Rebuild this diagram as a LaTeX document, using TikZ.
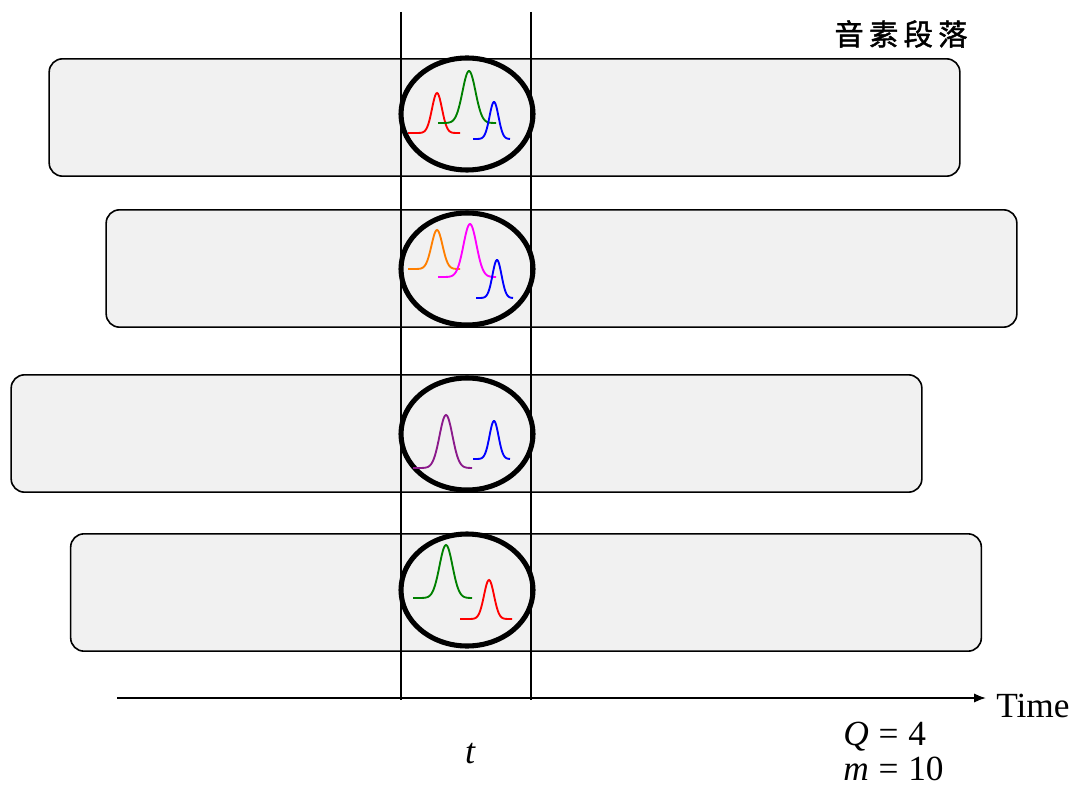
\documentclass[tikz,border=0pt]{standalone}
\usepackage{fontspec}
\setmainfont{Liberation Serif}
\newfontfamily\cjk[LetterSpace=18,FakeBold=1.5]{Noto Sans CJK TC}
\usetikzlibrary{shapes.geometric,arrows.meta}
\definecolor{boxfill}{HTML}{F1F1F1}
\definecolor{dkgreen}{HTML}{008000}
\definecolor{orng}{HTML}{FF7F00}
\definecolor{purp}{HTML}{8B1A8B}
\definecolor{mgnt}{HTML}{FF00FF}
% Gaussian bump: centre, left end, right end, baseline, height, sigma, colour
\newcommand\gbump[7]{\draw[#7,line width=1.4pt] plot[domain=#2:#3,samples=60,smooth] (\x,{#4-#5*exp(-((\x-#1)^2)/(2*#6*#6))});}
\begin{document}
\begin{tikzpicture}[x=0.75pt,y=-0.75pt,
  segbox/.style={draw=black,line width=1.2pt,fill=boxfill,rounded corners=10pt,
    minimum width=683pt,minimum height=88pt,inner sep=0pt},
  frame/.style={draw=black,line width=3.8pt,ellipse,minimum width=99pt,minimum height=84pt,inner sep=0pt},
  vline/.style={line width=1.1pt},
  lbl/.style={font=\fontsize{26.5}{28}\selectfont,inner sep=0pt}]
\useasboundingbox (0,0) rectangle (1073,791);

% phoneme segments
\node[segbox] (s1) at (504.5,117.5) {};
\node[segbox] (s2) at (561.5,268.5) {};
\node[segbox] (s3) at (466.5,433.5) {};
\node[segbox] (s4) at (526,592.5) {};

% time window boundaries
\coordinate (l1) at (401,12);  \coordinate (l2) at (401,700);
\coordinate (r1) at (531,12);  \coordinate (r2) at (531,700);
\draw[vline] (l1) -- (l2);
\draw[vline] (r1) -- (r2);

% frames at time t
\node[frame] (e1) at (467,114) {};
\node[frame] (e2) at (467,269) {};
\node[frame] (e3) at (467,434) {};
\node[frame] (e4) at (467,590) {};

% mixture components
\gbump{437}{408}{460}{133}{40}{5}{red}
\gbump{469}{438}{496}{123}{52}{6.5}{dkgreen}
\gbump{494}{473}{510}{139}{37}{4.5}{blue}

\gbump{437}{408}{460}{269}{39}{5.5}{orng}
\gbump{470}{438}{496}{277}{53}{6.5}{mgnt}
\gbump{497}{476}{513}{298}{38}{4.5}{blue}

\gbump{446}{413}{472}{468}{53}{6.5}{purp}
\gbump{494}{473}{510}{459}{38}{4.5}{blue}

\gbump{446}{413}{472}{598}{53}{6.5}{dkgreen}
\gbump{489}{460}{512}{619}{39}{5}{red}

% time axis
\coordinate (a0) at (117,698);
\coordinate (a1) at (986,698);
\draw[line width=1.3pt,-{Latex[length=9pt,width=7pt]}] (a0) -- (a1);
\node[lbl,anchor=west] (time) at (996,706) {Time};

\node[lbl,font=\fontsize{27}{28}\selectfont\itshape] (t) at (470,754) {t};
\node[lbl,anchor=base west] (q) at (843,745) {\textit{Q}\;=\;4};
\node[lbl,anchor=base west] (m) at (843,780) {\textit{m}\;=\;10};

\node[inner sep=0pt,font=\cjk\fontsize{22}{24}\selectfont] (title) at (901,34) {音素段落};
\end{tikzpicture}
\end{document}
